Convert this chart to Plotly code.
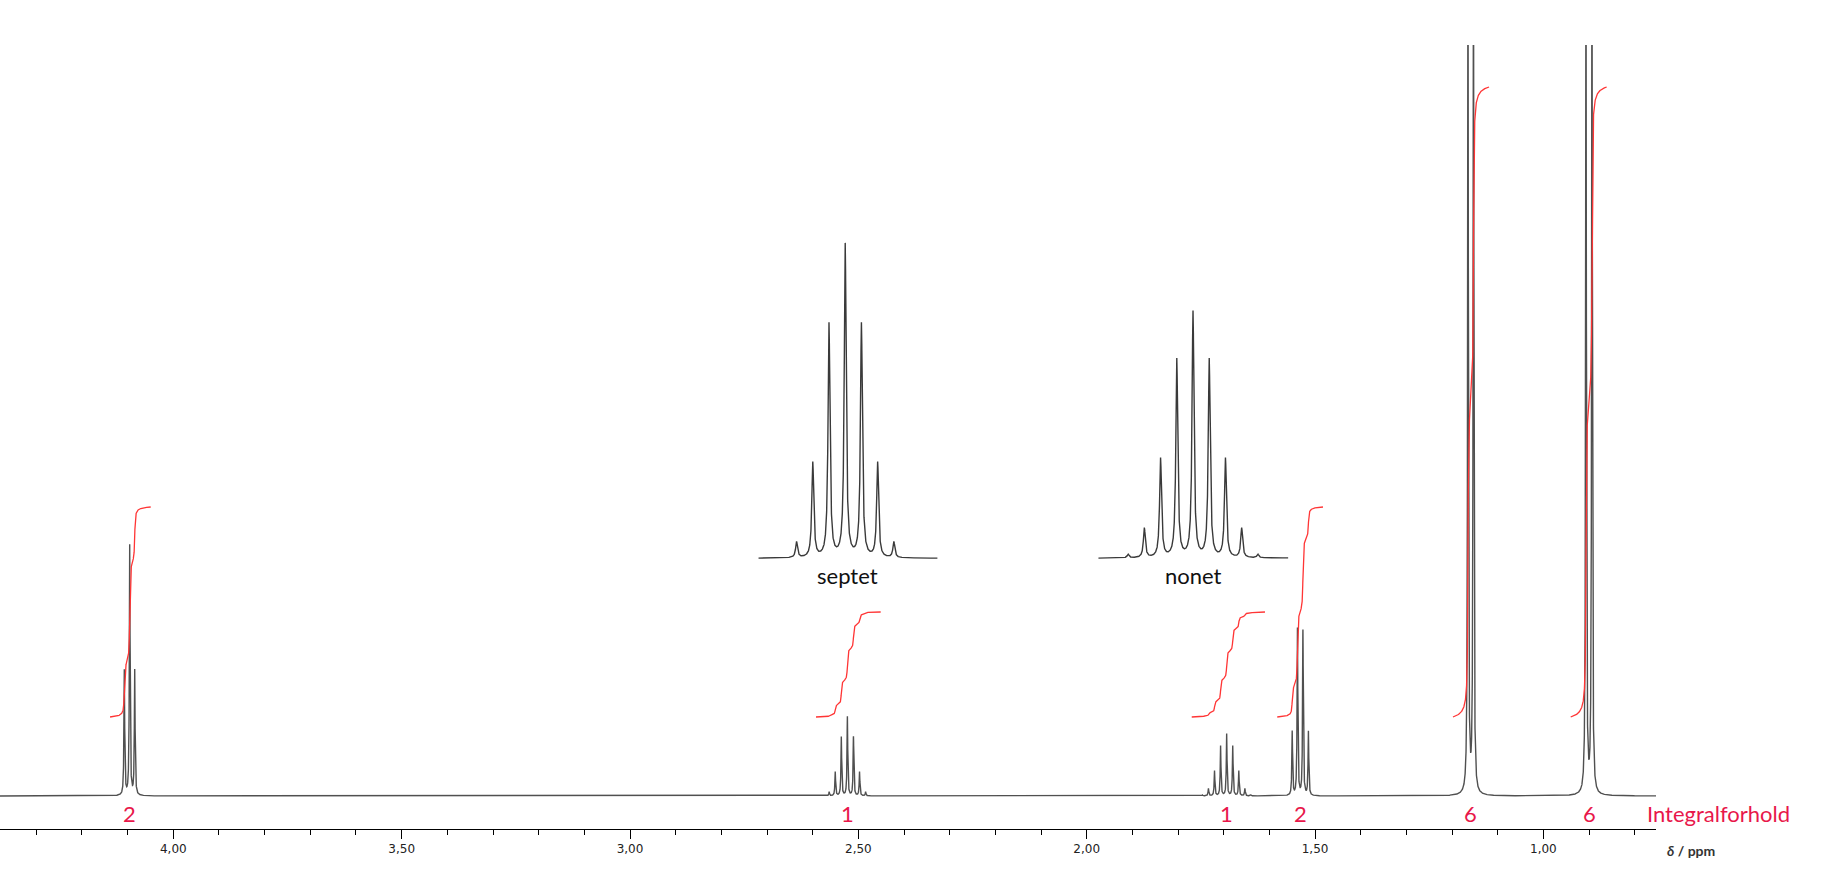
# coding: utf-8
# 1H NMR spectrum with integrals and expanded septet / nonet insets.

import numpy as np
import plotly.graph_objs as go

OUTPUT_PATH = 'out.html'

# Line positions [ppm] and line heights
TRIPLET_PPM = [4.1073, 4.0955, 4.0845]
TRIPLET_H = [125, 250, 125]
SEPTET_PPM = [2.5639, 2.5506, 2.5373, 2.5240, 2.5107, 2.4974, 2.4841]
SEPTET_H = [4, 24, 59, 79, 59, 24, 4]
NONET_PPM = [1.7467, 1.7334, 1.7201, 1.7068, 1.6935, 1.6802, 1.6669, 1.6536, 1.6403]
NONET_H = [0.9, 7.5, 25, 50, 62, 50, 25, 7.5, 0.9]
QUARTET_PPM = [1.5500, 1.5385, 1.5265, 1.5145]
QUARTET_H = [64, 167, 165, 64]
DOUBLET1_PPM = [1.1651, 1.1531]
DOUBLET1_H = [900, 900]
DOUBLET2_PPM = [0.9067, 0.8936]
DOUBLET2_H = [900, 900]
LINE_HWHM = 0.00094  # half width at half height [ppm]

# Integral regions [ppm] and relative proton counts
INTEGRAL_START = [4.1385, 2.5927, 1.7700, 1.5827, 1.1979, 0.9402]
INTEGRAL_END = [4.0495, 2.4511, 1.6096, 1.4826, 1.1190, 0.8614]
INTEGRAL_N = [2, 1, 1, 2, 6, 6]
LABEL_PPM = [4.096, 2.524, 1.6935, 1.532, 1.159, 0.900]
LABEL_TEXT = ['2', '1', '1', '2', '6', '6']

X_RANGE = [4.3795, 0.7534]
Y_RANGE = [-33, 751]
INTEGRAL_BASE = 79
INTEGRAL_PER_H = 105

SPEC_COLOR = '#505050'
INT_COLOR = '#ff3535'
LABEL_COLOR = '#e8174a'

ALL_PPM = np.array(TRIPLET_PPM + SEPTET_PPM + NONET_PPM + QUARTET_PPM + DOUBLET1_PPM + DOUBLET2_PPM)
ALL_H = np.array(TRIPLET_H + SEPTET_H + NONET_H + QUARTET_H + DOUBLET1_H + DOUBLET2_H, dtype=float)


def spectrum(ppm):
    # sum of lorentzian lines
    d = (ppm[:, None] - ALL_PPM[None, :]) / LINE_HWHM
    return (ALL_H[None, :] / (1 + d ** 2)).sum(axis=1)


def make_grid(lo, hi, step, centers=(), window=0.0, fine=0.0001):
    parts = [np.arange(lo, hi, step), ALL_PPM[(ALL_PPM > lo) & (ALL_PPM < hi)]]
    for c in centers:
        parts.append(np.arange(max(lo, c - window), min(hi, c + window), fine))
    g = np.unique(np.concatenate(parts))
    return g[::-1]


if __name__ == '__main__':
    fig = go.Figure()

    # main spectrum
    x_main = make_grid(0.74, 4.39, 0.001, centers=LABEL_PPM, window=0.07)
    fig.add_trace(go.Scatter(x=x_main, y=spectrum(x_main), mode='lines',
                             line=dict(color=SPEC_COLOR, width=1.4),
                             hoverinfo='skip', xaxis='x', yaxis='y'))

    # integral curves
    for start, end, n in zip(INTEGRAL_START, INTEGRAL_END, INTEGRAL_N):
        xi = np.linspace(start, end, 900)
        yi = spectrum(xi)
        cum = np.concatenate([[0], np.cumsum((yi[1:] + yi[:-1]) / 2 * np.abs(np.diff(xi)))])
        cum = cum / cum[-1]
        fig.add_trace(go.Scatter(x=xi, y=INTEGRAL_BASE + n * INTEGRAL_PER_H * cum, mode='lines',
                                 line=dict(color=INT_COLOR, width=1.3),
                                 hoverinfo='skip', xaxis='x', yaxis='y'))

    # insets (expanded septet and nonet)
    x_sep = make_grid(2.4482, 2.5953, 0.00005)
    fig.add_trace(go.Scatter(x=x_sep, y=spectrum(x_sep), mode='lines',
                             line=dict(color='#3a3a3a', width=1.4),
                             hoverinfo='skip', xaxis='x2', yaxis='y2'))
    x_non = make_grid(1.6153, 1.7712, 0.00005)
    fig.add_trace(go.Scatter(x=x_non, y=spectrum(x_non), mode='lines',
                             line=dict(color='#3a3a3a', width=1.4),
                             hoverinfo='skip', xaxis='x3', yaxis='y3'))

    annotations = []
    for ppm, txt in zip(LABEL_PPM, LABEL_TEXT):
        annotations.append(dict(x=ppm, y=-17.3, xref='x', yref='y', text=txt, showarrow=False,
                                font=dict(family='Lato', size=22, color=LABEL_COLOR)))
    annotations.append(dict(x=0.9934, y=-17.3, xref='paper', yref='y', text='Integralforhold',
                            xanchor='left', showarrow=False,
                            font=dict(family='Lato', size=22, color=LABEL_COLOR)))
    annotations.append(dict(x=1.0055, y=-0.028, xref='paper', yref='paper',
                            text='<b><i>δ</i> / ppm</b>', xanchor='left', yanchor='middle',
                            showarrow=False,
                            font=dict(family='Lato', size=14, color='#333333')))
    annotations.append(dict(x=2.522, y=0, xref='x2', yref='y2', yshift=-17, text='septet',
                            showarrow=False, font=dict(family='Lato', size=22, color='#111111')))
    annotations.append(dict(x=1.6935, y=0, xref='x3', yref='y3', yshift=-17, text='nonet',
                            showarrow=False, font=dict(family='Lato', size=22, color='#111111')))

    fig.update_layout(
        width=1822, height=875,
        margin=dict(l=0, r=166, t=45, b=46),
        paper_bgcolor='white', plot_bgcolor='white',
        showlegend=False,
        separators=',.',
        annotations=annotations,
        xaxis=dict(range=X_RANGE, domain=[0, 1], anchor='y',
                   showline=True, linecolor='#000000', linewidth=1,
                   ticks='outside', ticklen=9, tickwidth=1, tickcolor='#000000',
                   tick0=0, dtick=0.5, tickformat='.2f',
                   tickfont=dict(family='DejaVu Sans', size=12, color='#222222'),
                   minor=dict(dtick=0.1, ticks='outside', ticklen=5, tickwidth=1,
                              tickcolor='#000000', showgrid=False),
                   showgrid=False, zeroline=False),
        yaxis=dict(range=Y_RANGE, domain=[0, 1], visible=False, showgrid=False, zeroline=False),
        xaxis2=dict(range=[2.5953, 2.4482], domain=[0.4579, 0.5662], anchor='y2', visible=False),
        yaxis2=dict(range=[-5, 85], domain=[0.3200, 0.7746], anchor='x2', visible=False),
        xaxis3=dict(range=[1.7712, 1.6153], domain=[0.6632, 0.7780], anchor='y3', visible=False),
        yaxis3=dict(range=[-5, 68], domain=[0.3200, 0.6888], anchor='x3', visible=False),
    )

    # drop the default body margin so the figure sits at the window corner
    fig.write_html(OUTPUT_PATH, config={'displayModeBar': False},
                   post_script="document.body.style.margin='0';")
